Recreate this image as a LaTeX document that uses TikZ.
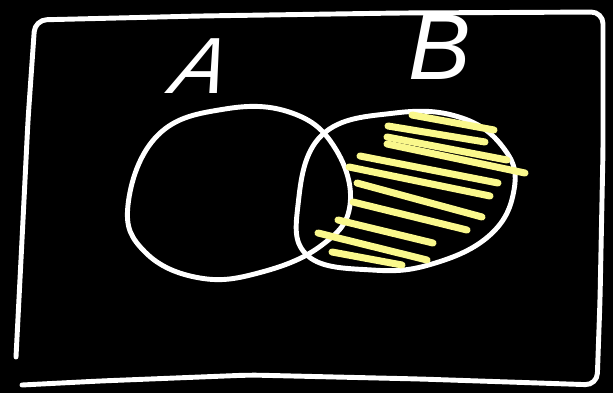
\documentclass[tikz,border=0pt]{standalone}
\usepackage{fontspec}
\setsansfont{Liberation Sans}
\usepackage{tikz}
\usetikzlibrary{positioning, calc}
\definecolor{hatch}{RGB}{250,248,140}

\begin{document}
\begin{tikzpicture}[x=0.03cm, y=-0.03cm, chalk/.style={draw=white, line width=4.2pt, line cap=round, line join=round}, shade/.style={draw=hatch, line width=6pt, line cap=round}, every node/.style={text=white, inner sep=0pt, font=\sffamily\itshape}]
      \fill[black] (0,0) rectangle (613,393);
      % frame
      \draw[chalk, rounded corners=10] (16,357) -- (22,240) -- (28,120) --
      (35,20) -- (200,16) -- (400,13) -- (603,12) -- (603,150) -- (600,300) --
      (597,385) -- (420,379) -- (250,375) -- (100,381) -- (22,385);
      % sets
      \draw[chalk] plot[smooth cycle, tension=0.7] coordinates {(128,205)
      (158,135) (225,109) (292,113) (335,148) (350,205) (322,245) (262,272)
      (200,278) (145,252)};
      \draw[chalk] plot[smooth cycle, tension=0.7] coordinates {(298,205)
      (322,135) (395,113) (462,118) (505,150) (514,190) (490,235) (432,264)
      (372,270) (308,256)};
      % B minus A
      \foreach \xa/\ya/\xb/\yb in {412/115/494/130, 388/126/485/142,
      387/137/507/160, 387/144/525/173, 360/156/498/183, 349/167/490/196,
      357/183/482/217, 353/202/467/230, 338/220/433/243, 318/233/427/260,
      332/252/402/265}
      {\draw[shade] (\xa,\ya) -- (\xb,\yb);}
      \node[font=\sffamily\itshape\fontsize{68}{68}\selectfont, xslant=0.25] (labA) at (202,66) {A};
      \node[font=\sffamily\itshape\fontsize{80}{80}\selectfont] (labB) at (440,47) {B};
    \end{tikzpicture}
\end{document}
